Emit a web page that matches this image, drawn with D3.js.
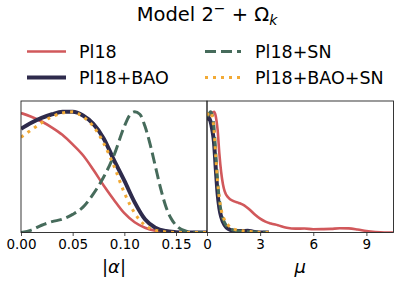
<!DOCTYPE html>
<html>
<head>
<meta charset="utf-8">
<script src="https://cdn.jsdelivr.net/npm/d3@7"></script>
<style>
  body { margin: 0; background: #fff; }
  svg text { font-family: "DejaVu Sans", sans-serif; fill: #000; }
</style>
</head>
<body>
<div id="chart"></div>
<script>
// series names and colours
var seriesNames = ['Pl18', 'Pl18+BAO', 'Pl18+SN', 'Pl18+BAO+SN'];
var seriesColors = ['#d1585b', '#2e2b4c', '#466b5b', '#f2aa36'];

// |alpha| panel, normalised marginal densities
var alphaX = [0, 0.01, 0.02, 0.03, 0.04, 0.05, 0.06, 0.07, 0.08, 0.09, 0.10, 0.11, 0.12, 0.13, 0.14, 0.15, 0.16, 0.17, 0.18];
var alphaPl18 = [0.99, 0.96, 0.92, 0.87, 0.81, 0.73, 0.64, 0.52, 0.39, 0.27, 0.16, 0.085, 0.04, 0.015, 0.005, 0.001, 0, 0, 0];
var alphaBAO = [0.86, 0.91, 0.95, 0.98, 1.00, 1.00, 0.97, 0.90, 0.78, 0.60, 0.43, 0.25, 0.11, 0.04, 0.012, 0.003, 0, 0, 0];
var alphaSN = [0.00, 0.02, 0.06, 0.09, 0.11, 0.15, 0.21, 0.32, 0.46, 0.64, 0.88, 1.00, 0.88, 0.55, 0.22, 0.06, 0.01, 0, 0];
var alphaBAOSN = [0.79, 0.85, 0.91, 0.96, 0.99, 1.00, 0.96, 0.88, 0.74, 0.55, 0.33, 0.16, 0.06, 0.02, 0.005, 0, 0, 0, 0];
var alphaSNfine = [[0.105, 0.97], [0.115, 0.98], [0.125, 0.73], [0.135, 0.37], [0.145, 0.12]];
var alphaTicks = [0, 0.05, 0.10, 0.15];

// mu panel
var muPl18X = [0, 0.2, 0.4, 0.5, 0.6, 0.7, 0.8, 0.9, 1.0, 1.2, 1.5, 1.8, 2.1, 2.4, 2.7, 3.0, 3.3, 3.6, 4.0, 4.5, 5.0, 5.5, 6.0, 6.5, 7.0, 7.5, 8.0, 8.5, 9.0, 9.5, 10.0, 10.5];
var muPl18 = [0.94, 0.98, 1.00, 0.96, 0.85, 0.65, 0.50, 0.40, 0.34, 0.29, 0.26, 0.245, 0.225, 0.19, 0.15, 0.115, 0.09, 0.075, 0.06, 0.04, 0.032, 0.033, 0.027, 0.028, 0.03, 0.035, 0.034, 0.025, 0.012, 0.004, 0, 0];
var muX = [0, 0.1, 0.2, 0.3, 0.4, 0.5, 0.6, 0.7, 0.8, 1.0, 1.2, 1.5, 2.0, 2.3, 2.6, 3.0, 3.5];
var muBAO = [0.93, 0.95, 0.92, 0.85, 0.74, 0.52, 0.32, 0.20, 0.13, 0.06, 0.03, 0.015, 0.012, 0.015, 0.006, 0.001, 0];
var muSN = [0.96, 0.98, 1.00, 0.97, 0.86, 0.64, 0.42, 0.27, 0.17, 0.08, 0.04, 0.02, 0.01, 0.007, 0.005, 0.003, 0];
var muBAOSN = [0.97, 0.99, 1.00, 0.96, 0.84, 0.62, 0.42, 0.28, 0.19, 0.10, 0.06, 0.03, 0.014, 0.01, 0.005, 0.001, 0];
var muTicks = [0, 3, 6, 9];

var W = 399, H = 284;
var plotTop = 101, plotBottom = 232.5;
var styles = [
  { width: 2.6, dash: null },
  { width: 4, dash: null },
  { width: 3, dash: '11,5' },
  { width: 3, dash: '3,5' }
];

var svg = d3.select('#chart').append('svg').attr('width', W).attr('height', H);

// title
var title = svg.append('text').attr('x', 207).attr('y', 21).attr('text-anchor', 'middle').style('font-size', '19.5px');
title.append('tspan').text('Model 2');
title.append('tspan').attr('dy', -8).style('font-size', '14px').text('\u2212');
title.append('tspan').attr('dy', 8).text(' + \u03A9');
title.append('tspan').attr('dy', 4).style('font-size', '14px').style('font-style', 'italic').text('k');

// legend
var legendPos = [[27, 51.5], [27, 77.5], [205, 51.5], [205, 77.5]];
seriesNames.forEach(function(name, i) {
  var g = svg.append('g').attr('transform', 'translate(' + legendPos[i][0] + ',' + legendPos[i][1] + ')');
  g.append('line').attr('x1', 0).attr('x2', i < 2 ? 39 : 36).attr('y1', 0).attr('y2', 0)
    .attr('stroke', seriesColors[i]).attr('stroke-width', styles[i].width)
    .attr('stroke-dasharray', styles[i].dash);
  g.append('text').attr('x', i < 2 ? 52 : 50).attr('y', 6.7).style('font-size', '17.5px').text(name);
});

var y = d3.scaleLinear().domain([0, 1.09]).range([plotBottom, plotTop]);

function panel(x0, x1, domain, ticks, fmt, series, clipId) {
  var x = d3.scaleLinear().domain(domain).range([x0, x1]);
  svg.append('clipPath').attr('id', clipId).append('rect')
    .attr('x', x0).attr('y', plotTop - 5).attr('width', x1 - x0).attr('height', plotBottom - plotTop + 5);
  var line = d3.line().x(function(d) { return x(d[0]); }).y(function(d) { return y(d[1]); })
    .curve(d3.curveMonotoneX);
  var g = svg.append('g').attr('clip-path', 'url(#' + clipId + ')');
  series.forEach(function(pts, i) {
    g.append('path').datum(pts).attr('d', line).attr('fill', 'none')
      .attr('stroke', seriesColors[i]).attr('stroke-width', styles[i].width)
      .attr('stroke-dasharray', styles[i].dash).attr('stroke-linejoin', 'round');
  });
  var axis = svg.append('g').attr('transform', 'translate(0,' + plotBottom + ')')
    .call(d3.axisBottom(x).tickValues(ticks).tickFormat(fmt).tickSize(3.5).tickSizeOuter(0).tickPadding(3));
  axis.select('.domain').remove();
  axis.selectAll('line').attr('stroke', '#222').attr('stroke-width', 0.8);
  axis.selectAll('text').style('font-size', '13.5px').style('font-family', '"DejaVu Sans", sans-serif');
  svg.append('rect').attr('x', x0).attr('y', plotTop).attr('width', x1 - x0).attr('height', plotBottom - plotTop)
    .attr('fill', 'none').attr('stroke', '#222').attr('stroke-width', 0.9);
  return svg.append('text').attr('x', (x0 + x1) / 2).attr('y', 273).attr('text-anchor', 'middle')
    .style('font-size', '18px');
}

function zip(xs, ys) { return xs.map(function(v, i) { return [v, ys[i]]; }); }

var snPts = zip(alphaX, alphaSN).concat(alphaSNfine).sort(function(a, b) { return a[0] - b[0]; });

var l1 = panel(21, 207, [0, 0.18], alphaTicks, d3.format('.2f'),
  [zip(alphaX, alphaPl18), zip(alphaX, alphaBAO), snPts, zip(alphaX, alphaBAOSN)], 'c1');
l1.append('tspan').text('|');
l1.append('tspan').style('font-style', 'italic').text('\u03B1');
l1.append('tspan').text('|');

var l2 = panel(207, 393.5, [0, 10.53], muTicks, d3.format('d'),
  [zip(muPl18X, muPl18), zip(muX, muBAO), zip(muX, muSN), zip(muX, muBAOSN)], 'c2');
l2.style('font-style', 'italic').text('\u03BC');
</script>
</body>
</html>
